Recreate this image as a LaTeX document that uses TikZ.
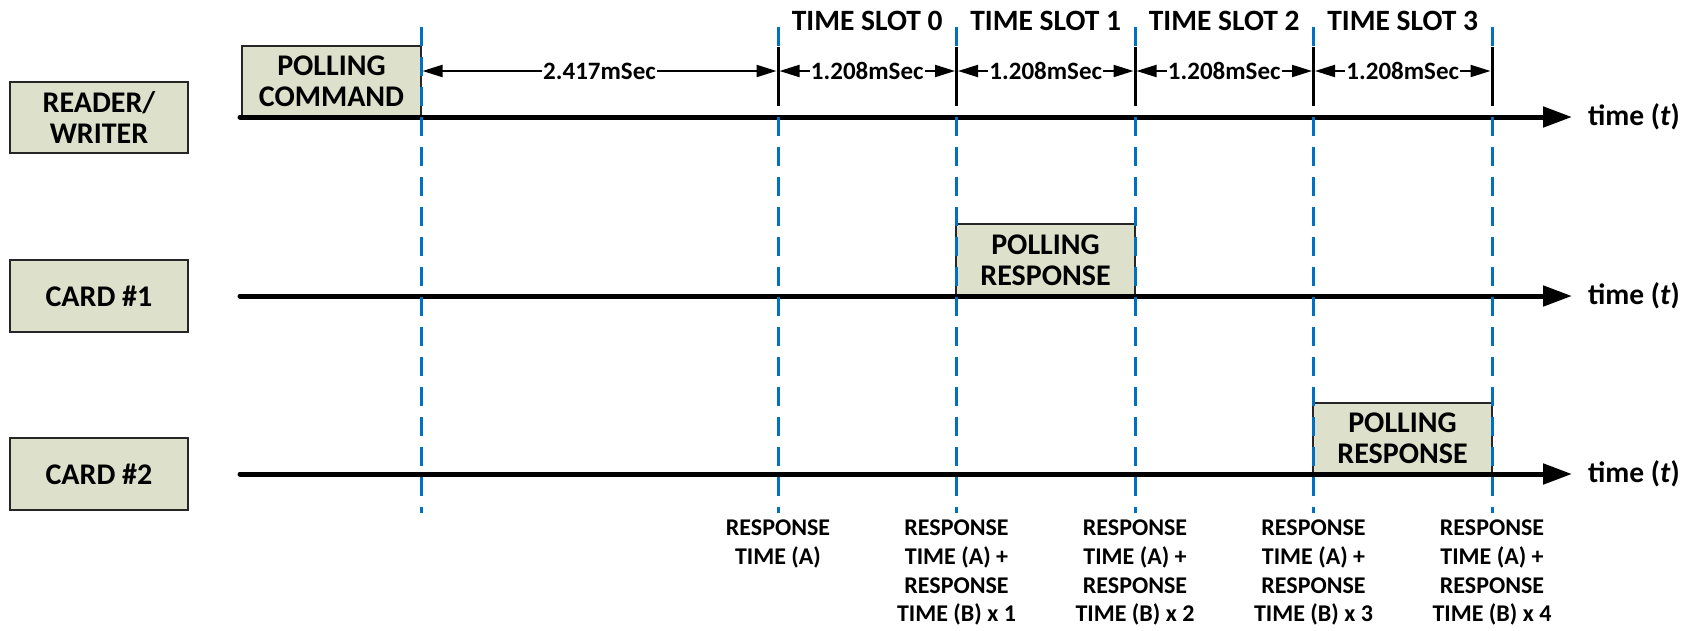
\documentclass[tikz,border=0pt]{standalone}
\usepackage{fontspec}
\setmainfont{Carlito}
\usetikzlibrary{arrows.meta,calc}
\definecolor{boxfill}{RGB}{221,224,203}
\definecolor{guideblue}{RGB}{0,112,192}
\begin{document}
\begin{tikzpicture}[x=1pt,y=-1pt,
  labelbox/.style={draw=black!85, line width=1.3pt, fill=boxfill, inner sep=0pt,
    align=center, minimum width=178pt, minimum height=71pt,
    font=\fontsize{30}{31}\selectfont\bfseries},
  axisline/.style={line width=5pt, line cap=round,
    -{Triangle[length=29pt,width=20pt]}},
  guide/.style={draw=guideblue, line width=3pt, dash pattern=on 19pt off 11pt},
  tick/.style={draw=black, line width=3pt},
  dim/.style={line width=2pt, {Triangle[length=20pt,width=12pt]}-{Triangle[length=20pt,width=12pt]},
    shorten <=1.5pt, shorten >=1.5pt},
  dimlabel/.style={fill=white, inner sep=1pt, font=\fontsize{25}{28}\selectfont\bfseries},
  slotlabel/.style={font=\fontsize{29.5}{30}\selectfont\bfseries},
  timelabel/.style={anchor=west, inner sep=0pt, font=\fontsize{29.5}{31}\selectfont\bfseries},
  resplabel/.style={anchor=north, inner sep=0pt, align=center,
    font=\fontsize{24}{28.8}\selectfont\bfseries}]
\useasboundingbox (0,0) rectangle (1692,630);

% row labels
\node[labelbox] (rw) at (99,117.5) {READER/\\WRITER};
\node[labelbox, minimum height=72pt] (c1) at (99,296) {CARD \#1};
\node[labelbox, minimum height=72pt] (c2) at (99,474) {CARD \#2};

% time axes
\coordinate (a0s) at (240,117);  \coordinate (a0e) at (1572,117);
\coordinate (a1s) at (240,296);  \coordinate (a1e) at (1572,296);
\coordinate (a2s) at (240,474);  \coordinate (a2e) at (1572,474);

% frames sitting on the axes
\node[labelbox, minimum width=179pt] (cmd) at (331.5,81.5) {POLLING\\COMMAND};
\node[labelbox, minimum width=179pt, minimum height=72pt] (resp1) at (1045.5,260) {POLLING\\RESPONSE};
\node[labelbox, minimum width=179pt] (resp2) at (1402.5,438.5) {POLLING\\RESPONSE};

\draw[axisline] (a0s) -- (a0e);
\draw[axisline] (a1s) -- (a1e);
\draw[axisline] (a2s) -- (a2e);

\node[timelabel] (t0) at (1588,117) {time (\textit{t})};
\node[timelabel] (t1) at (1588,296) {time (\textit{t})};
\node[timelabel] (t2) at (1588,474) {time (\textit{t})};

% slot boundaries
\foreach \i/\x in {0/421,1/778,2/956.5,3/1135,4/1313.5,5/1492} {
  \coordinate (g\i) at (\x,27);
  \coordinate (b\i) at (\x,513);
  \coordinate (k\i) at (\x,71);
  \draw[guide] (g\i) -- (b\i);
}
% end marks of the dimension lines
\foreach \i in {1,...,5} {
  \coordinate (kt\i) at ($(k\i)+(0,-24)$);
  \coordinate (kb\i) at ($(k\i)+(0,35)$);
  \draw[tick] (kt\i) -- (kb\i);
}

% durations
\draw[dim] (k0) -- node[dimlabel] {2.417mSec} (k1);
\draw[dim] (k1) -- node[dimlabel] {1.208mSec} (k2);
\draw[dim] (k2) -- node[dimlabel] {1.208mSec} (k3);
\draw[dim] (k3) -- node[dimlabel] {1.208mSec} (k4);
\draw[dim] (k4) -- node[dimlabel] {1.208mSec} (k5);

% slot titles
\node[slotlabel] (s0) at ($(g1)!0.5!(g2)+(0,-6)$) {TIME SLOT 0};
\node[slotlabel] (s1) at ($(g2)!0.5!(g3)+(0,-6)$) {TIME SLOT 1};
\node[slotlabel] (s2) at ($(g3)!0.5!(g4)+(0,-6)$) {TIME SLOT 2};
\node[slotlabel] (s3) at ($(g4)!0.5!(g5)+(0,-6)$) {TIME SLOT 3};

% response instants
\node[resplabel] (r1) at ($(b1)+(0,6.5)$) {RESPONSE\\TIME (A)};
\node[resplabel] (r2) at ($(b2)+(0,6.5)$) {RESPONSE\\TIME (A) +\\RESPONSE\\TIME (B) x 1};
\node[resplabel] (r3) at ($(b3)+(0,6.5)$) {RESPONSE\\TIME (A) +\\RESPONSE\\TIME (B) x 2};
\node[resplabel] (r4) at ($(b4)+(0,6.5)$) {RESPONSE\\TIME (A) +\\RESPONSE\\TIME (B) x 3};
\node[resplabel] (r5) at ($(b5)+(0,6.5)$) {RESPONSE\\TIME (A) +\\RESPONSE\\TIME (B) x 4};
\end{tikzpicture}
\end{document}
